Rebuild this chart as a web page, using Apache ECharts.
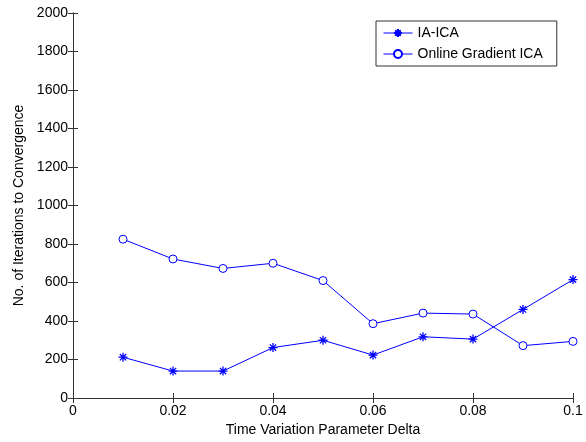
<!DOCTYPE html>
<html>
<head>
<meta charset="utf-8">
<script src="https://cdn.jsdelivr.net/npm/echarts@6/dist/echarts.min.js"></script>
<style>
  html, body { margin: 0; padding: 0; background: #fff; }
  #chart { width: 586px; height: 442px; }
</style>
</head>
<body>
<div id="chart"></div>
<script>
// data
const deltas = [0.01, 0.02, 0.03, 0.04, 0.05, 0.06, 0.07, 0.08, 0.09, 0.1];
const iaIca = [212, 140, 140, 262, 300, 223, 318, 306, 460, 615];
const onlineGradient = [825, 722, 673, 700, 610, 386, 441, 436, 272, 294];
const seriesNames = ['IA-ICA', 'Online Gradient ICA'];

const font = 'Arial, "Liberation Sans", sans-serif';
const axisColor = '#333';
const blue = '#0000ff';
const asterisk = 'path://M-5,0L5,0M0,-5L0,5M-3.5,-3.5L3.5,3.5M-3.5,3.5L3.5,-3.5';
const ring = 'path://M-5,0A5,5 0 1,0 5,0A5,5 0 1,0 -5,0Z';

const pairs = vals => deltas.map((d, i) => [d, vals[i]]);

const baseX = {
  type: 'value', min: 0, max: 0.1, interval: 0.02,
  axisLine: {show: true, lineStyle: {color: axisColor, width: 1}},
  axisTick: {show: true, inside: true, length: 5, lineStyle: {color: axisColor}},
  splitLine: {show: false}
};
const baseY = {
  type: 'value', min: 0, max: 2000, interval: 200,
  axisLine: {show: true, lineStyle: {color: axisColor, width: 1}},
  axisTick: {show: true, inside: true, length: 5, lineStyle: {color: axisColor}},
  splitLine: {show: false}
};

const chart = echarts.init(document.getElementById('chart'), null, {renderer: 'canvas'});
chart.setOption({
  animation: false,
  backgroundColor: '#fff',
  grid: {left: 73, top: 13, right: 13, bottom: 44},
  legend: {
    orient: 'vertical',
    left: 376, top: 21,
    padding: [5, 14, 5, 7],
    itemWidth: 29, itemHeight: 10, itemGap: 7,
    borderColor: '#333', borderWidth: 1, backgroundColor: '#fff',
    lineStyle: {width: 1, color: blue},
    textStyle: {fontFamily: font, fontSize: 14, color: '#000'},
    data: seriesNames
  },
  xAxis: [
    Object.assign({}, baseX, {
      position: 'bottom',
      name: 'Time Variation Parameter Delta',
      nameLocation: 'middle', nameGap: 25,
      nameTextStyle: {fontFamily: font, fontSize: 14, color: '#000'},
      axisLabel: {
        fontFamily: font, fontSize: 14, color: '#000', margin: 6,
        formatter: v => String(Math.round(v * 100) / 100)
      }
    }),
    Object.assign({}, baseX, {position: 'top', axisLabel: {show: false}})
  ],
  yAxis: [
    Object.assign({}, baseY, {
      position: 'left',
      name: 'No. of Iterations to Convergence',
      nameLocation: 'middle', nameGap: 44,
      nameTextStyle: {fontFamily: font, fontSize: 14, color: '#000'},
      axisLabel: {
        fontFamily: font, fontSize: 14, color: '#000', margin: 5,
        formatter: v => String(v)
      }
    }),
    Object.assign({}, baseY, {position: 'right', axisLabel: {show: false}})
  ],
  series: [
    {
      name: seriesNames[0],
      type: 'line',
      data: pairs(iaIca),
      symbol: asterisk,
      symbolSize: 9,
      showAllSymbol: true,
      lineStyle: {color: blue, width: 1},
      itemStyle: {color: 'none', borderColor: blue, borderWidth: 1.3}
    },
    {
      name: seriesNames[1],
      type: 'line',
      data: pairs(onlineGradient),
      symbol: ring,
      symbolSize: 8,
      showAllSymbol: true,
      lineStyle: {color: blue, width: 1},
      itemStyle: {color: '#fff', borderColor: blue, borderWidth: 1}
    }
  ]
});
</script>
</body>
</html>
